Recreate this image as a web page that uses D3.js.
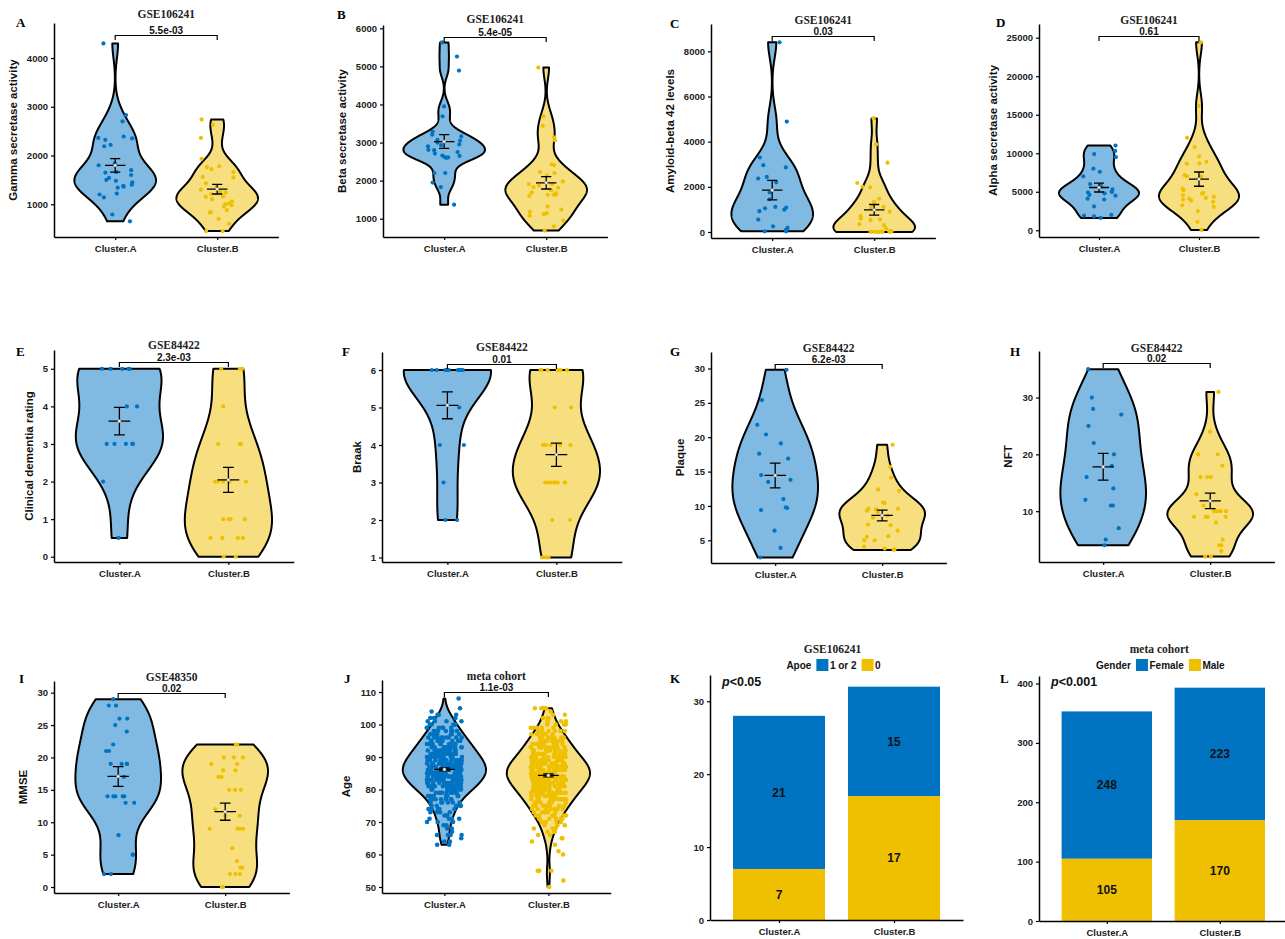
<!DOCTYPE html>
<meta charset="utf-8">
<script src="https://d3js.org/d3.v7.min.js"></script>
<style>
  body { margin: 0; background: #fff; }
</style>
<div id="chart"></div>
<script>
// ---- data ----
var groups = ["Cluster.A", "Cluster.B"];

// GSE106241
var gammaA = [4300, 2830, 2700, 2390, 2360, 2350, 2320, 2220, 2190, 1840, 1800, 1700, 1660, 1650, 1600, 1540, 1500, 1480, 1450, 1400, 1380, 1360, 1340, 1220, 1200, 1140, 790, 650];
var gammaB = [2740, 2630, 2360, 1930, 1780, 1760, 1720, 1660, 1560, 1550, 1430, 1370, 1300, 1260, 1240, 1240, 1210, 1160, 1150, 1100, 1060, 1020, 1000, 980, 950, 880, 840, 830, 700, 600, 450, 450];
var betaA = [5630, 5260, 4890, 3950, 3690, 3290, 3210, 3160, 3070, 3050, 3000, 2950, 2930, 2900, 2810, 2800, 2750, 2710, 2660, 2650, 2620, 2610, 2600, 2200, 2200, 1950, 1830, 1370];
var betaB = [4970, 3690, 3440, 3140, 3060, 2430, 2410, 2230, 2200, 2130, 1980, 1910, 1910, 1870, 1830, 1810, 1750, 1690, 1670, 1630, 1630, 1630, 1600, 1320, 1240, 1180, 1150, 1120, 1080, 950, 800, 690];
var amyloidA = [8400, 4890, 3300, 2960, 2860, 2440, 2370, 2200, 1750, 1450, 1110, 1080, 1050, 990, 920, 550, 250, 180, 100, 30, 30];
var amyloidB = [5030, 3880, 3070, 2170, 2000, 1980, 1470, 1330, 1180, 1110, 1050, 900, 700, 600, 550, 530, 350, 300, 150, 40, 30, 20, 20, 10, 10, 5, 5, 0, 0];
var alphaA = [11000, 10300, 9900, 9500, 8000, 7600, 7000, 6000, 5800, 5300, 5000, 5000, 4900, 4800, 4600, 4500, 4100, 4000, 3100, 2000, 1900, 1800, 1600];
var alphaB = [24400, 16150, 12000, 10800, 9600, 8900, 8700, 8650, 7150, 7000, 7000, 6700, 5400, 5200, 4850, 4750, 4550, 4350, 4200, 4100, 4000, 3850, 3700, 3250, 3050, 2500, 1100, 50];

// GSE84422
var cdrA = [5, 5, 5, 5, 5, 4, 4, 3, 3, 3, 3, 3, 2, 0.5];
var cdrB = [5, 5, 5, 4, 3, 3, 3, 3, 2, 2, 2, 2, 2, 1, 1, 1, 1, 0.5, 0.5, 0.5, 0.5, 0, 0];
var braakA = [6, 6, 6, 6, 6, 6, 6, 6, 6, 6, 6, 5, 4, 4, 3, 2, 2];
var braakB = [6, 6, 6, 6, 6, 6, 5, 5, 4, 4, 4, 4, 4, 4, 3, 3, 3, 3, 3, 3, 3, 3, 2, 2, 1, 1, 1];
var plaqueA = [29.8, 25.4, 21.8, 20.4, 19.1, 17.6, 16.9, 14.5, 13.8, 13.5, 11.0, 9.8, 9.7, 9.4, 6.4, 3.9, 2.5];
var plaqueB = [18.9, 15.7, 14.1, 12.4, 12.2, 10.5, 10.4, 9.6, 9.6, 9.5, 9.3, 9.1, 8.6, 8.3, 7.3, 7.2, 6.4, 5.6, 5.5, 5.0, 5.0, 4.1, 3.8, 3.7, 3.6];
var nftA = [35, 30, 28, 27, 25, 22, 20, 18, 16, 14, 12, 11, 11, 7, 5, 4];
var nftB = [31, 24, 20, 20, 20, 18, 16, 16, 16, 13, 11, 10, 10, 10, 10, 10, 9, 9, 9, 9, 8, 5, 4, 4, 3, 2, 2];

// GSE48350
var mmseA = [29, 28, 28, 26, 26, 25, 24, 22, 21, 21, 19, 19, 19, 19, 17, 14, 14, 14, 14, 14, 13, 13, 8, 5, 5, 2, 2];
var mmseB = [22, 22, 20, 20, 20, 19, 19, 18, 18, 17, 17, 15, 15, 15, 12, 11, 11, 9, 9, 9, 9, 6, 4, 3, 3, 2, 2, 2, 0, 0];

// meta cohort, age: [age, number of samples]
var ageCountsA = [[63,2],[64,2],[65,1],[66,4],[67,1],[68,2],[69,2],[70,3],[71,4],[72,3],[73,4],[74,5],[75,5],[76,6],[77,7],[78,8],[79,10],
  [80,12],[81,13],[82,15],[83,16],[84,17],[85,18],[86,18],[87,18],[88,17],[89,16],[90,15],[91,14],[92,13],[93,12],[94,11],[95,10],
  [96,9],[97,8],[98,7],[99,6],[100,5],[101,4],[102,4],[103,3],[104,1],[105,1],[108,1]];
var ageCountsB = [[50,1],[52,1],[55,3],[60,1],[61,1],[63,1],[64,1],[65,2],[66,2],[67,3],[68,3],[69,3],[70,4],[71,6],[72,6],[73,7],
  [74,8],[75,9],[76,10],[77,11],[78,12],[79,13],[80,15],[81,15],[82,17],[83,18],[84,19],[85,19],[86,19],[87,18],[88,17],[89,16],
  [90,14],[91,13],[92,12],[93,11],[94,10],[95,9],[96,8],[97,7],[98,6],[99,5],[100,4],[101,3],[102,3],[103,2],[104,1],[105,4]];

// stacked bars
var apoeLevels = ["1 or 2", "0"];
var apoeCarrier = [21, 15];
var apoeNone = [7, 17];
var genderLevels = ["Female", "Male"];
var female = [248, 223];
var male = [105, 170];

// tick values
var ticksGamma = [1000, 2000, 3000, 4000];
var ticksBeta = [1000, 2000, 3000, 4000, 5000, 6000];
var ticksAmyloid = [0, 2000, 4000, 6000, 8000];
var ticksAlpha = [0, 5000, 10000, 15000, 20000, 25000];
var ticksCdr = [0, 1, 2, 3, 4, 5];
var ticksBraak = [1, 2, 3, 4, 5, 6];
var ticksPlaque = [5, 10, 15, 20, 25, 30];
var ticksNft = [10, 20, 30];
var ticksMmse = [0, 5, 10, 15, 20, 25, 30];
var ticksAge = [50, 60, 70, 80, 90, 100, 110];
var ticksApoe = [0, 10, 20, 30];
var ticksGender = [0, 100, 200, 300, 400];

// ---- setup ----
var blue = "#0073C2", yellow = "#EFC000";
var blueFill = "#80B9E1", yellowFill = "#F7DF80";
var sans = "'Liberation Sans', Arial, sans-serif";
var serif = "'Liberation Serif', 'Times New Roman', serif";

var svg = d3.select("#chart").append("svg")
  .attr("width", 1285)
  .attr("height", 939);

function expand(pairs) {
  var out = [];
  pairs.forEach(function(p) { for (var k = 0; k < p[1]; k++) out.push(p[0]); });
  return out;
}

// gaussian kernel density, bandwidth like R's bw.nrd0, trimmed to the data range
function kde(values) {
  var v = values.slice().sort(d3.ascending), n = v.length;
  var sd = d3.deviation(v);
  var iqr = d3.quantile(v, 0.75) - d3.quantile(v, 0.25);
  var lo = Math.min(sd, iqr / 1.34);
  if (!(lo > 0)) lo = sd || 1;
  var bw = 0.9 * lo * Math.pow(n, -0.2);
  var mn = v[0], mx = v[n - 1];
  return d3.range(512).map(function(k) {
    var t = mn + (mx - mn) * k / 511;
    var s = d3.sum(v, function(d) { var z = (t - d) / bw; return Math.exp(-0.5 * z * z); });
    return [t, s / (n * bw * Math.sqrt(2 * Math.PI))];
  });
}

function styleAxis(sel, size) {
  sel.select(".domain").attr("stroke", "#000").attr("stroke-width", 1.5);
  sel.selectAll(".tick line").attr("stroke", "#000").attr("stroke-width", 1.2);
  sel.selectAll(".tick text")
    .attr("font-family", sans)
    .attr("font-weight", "bold")
    .attr("font-size", size || 9.5)
    .attr("fill", "#222");
}

function panelLetter(p) {
  svg.append("text")
    .attr("x", p.lx).attr("y", p.ly)
    .attr("font-family", serif).attr("font-weight", "bold").attr("font-size", 13)
    .text(p.label);
}

function drawAxes(g, p, x, y, ticks) {
  var xa = g.append("g")
    .attr("transform", "translate(0," + p.bottom + ")")
    .call(d3.axisBottom(x).tickValues([1, 2]).tickFormat(function(d) { return groups[d - 1]; })
      .tickSize(3).tickPadding(5).tickSizeOuter(0));
  styleAxis(xa);
  var ya = g.append("g")
    .attr("transform", "translate(" + p.left + ",0)")
    .call(d3.axisLeft(y).tickValues(ticks).tickFormat(d3.format("d"))
      .tickSize(3).tickPadding(3).tickSizeOuter(0));
  styleAxis(ya);
  var maxW = d3.max(ya.selectAll(".tick text").nodes(), function(n) { return n.getComputedTextLength(); });
  return maxW;
}

// ---- violin panels ----
var violinPanels = [
  {a: gammaA, b: gammaB, ticks: ticksGamma, dom: [328, 4719], left: 54, u: 102, top: 23, bottom: 237,
   label: "A", lx: 16, ly: 27, title: "GSE106241", tdy: -5, ylab: "Gamma secretase activity", p: "5.5e-03"},
  {a: betaA, b: betaB, ticks: ticksBeta, dom: [520, 6087], left: 383, u: 102, top: 25, bottom: 237,
   label: "B", lx: 337, ly: 19, title: "GSE106241", tdy: -2, ylab: "Beta secretase activity", p: "5.4e-05"},
  {a: amyloidA, b: amyloidB, ticks: ticksAmyloid, dom: [-266, 9211], left: 711, u: 102, top: 24, bottom: 238,
   label: "C", lx: 670, ly: 28, title: "GSE106241", tdy: 0, ylab: "Amyloid-beta 42 levels", p: "0.03"},
  {a: alphaA, b: alphaB, ticks: ticksAlpha, dom: [-871, 26781], left: 1039, u: 100, top: 24, bottom: 237,
   label: "D", lx: 996, ly: 27, title: "GSE106241", tdy: 0, ylab: "Alpha secretase activity", p: "0.61"},
  {a: cdrA, b: cdrB, ticks: ticksCdr, dom: [-0.14, 5.5], left: 54, u: 109, top: 350, bottom: 562,
   label: "E", lx: 16, ly: 356, title: "GSE84422", tdy: -1, ylab: "Clinical dementia rating", p: "2.3e-03"},
  {a: braakA, b: braakB, ticks: ticksBraak, dom: [0.88, 6.48], left: 382, u: 109, top: 352, bottom: 562,
   label: "F", lx: 342, ly: 356, title: "GSE84422", tdy: -1, ylab: "Braak", p: "0.01"},
  {a: plaqueA, b: plaqueB, ticks: ticksPlaque, dom: [1.7, 32.4], left: 711, u: 107, top: 352, bottom: 563,
   label: "G", lx: 670, ly: 356, title: "GSE84422", tdy: 0, ylab: "Plaque", p: "6.2e-03"},
  {a: nftA, b: nftB, ticks: ticksNft, dom: [1.05, 38.2], left: 1039, u: 107, top: 351, bottom: 562,
   label: "H", lx: 1010, ly: 356, title: "GSE84422", tdy: 1, ylab: "NFT", p: "0.02"},
  {a: mmseA, b: mmseB, ticks: ticksMmse, dom: [-0.92, 31.8], left: 54, u: 107, top: 681, bottom: 893,
   label: "I", lx: 19, ly: 683, title: "GSE48350", tdy: 0, ylab: "MMSE", p: "0.02"},
  {a: expand(ageCountsA), b: expand(ageCountsB), ticks: ticksAge, dom: [48.15, 113.7], left: 382, u: 104, top: 680, bottom: 893,
   label: "J", lx: 344, ly: 683, title: "meta cohort", tdy: 0, ylab: "Age", p: "1.1e-03", r: 2.3}
];

violinPanels.forEach(function(p, pi) {
  var g = svg.append("g");
  var x = d3.scaleLinear().domain([0.4, 2.6]).range([p.left, p.left + 2.2 * p.u]);
  var y = d3.scaleLinear().domain(p.dom).range([p.bottom, p.top]);
  var sets = [p.a, p.b];
  var fills = [blueFill, yellowFill], cols = [blue, yellow];

  // violins
  sets.forEach(function(vals, i) {
    var dens = kde(vals);
    var dmax = d3.max(dens, function(d) { return d[1]; });
    var cx = x(i + 1);
    var half = function(d) { return d[1] / dmax * 0.4 * p.u; };
    g.append("path")
      .datum(dens)
      .attr("d", d3.area()
        .x0(function(d) { return cx - half(d); })
        .x1(function(d) { return cx + half(d); })
        .y(function(d) { return y(d[0]); }))
      .attr("fill", fills[i])
      .attr("stroke", "#000")
      .attr("stroke-width", 2)
      .attr("stroke-linejoin", "round");
  });

  // jittered points
  var rng = d3.randomLcg(0.137 + pi * 0.071);
  sets.forEach(function(vals, i) {
    var cx = x(i + 1);
    g.selectAll(null)
      .data(vals)
      .enter()
      .append("circle")
        .attr("cx", function() { return cx + (rng() * 2 - 1) * 0.17 * p.u; })
        .attr("cy", function(d) { return y(d); })
        .attr("r", p.r || 2.1)
        .attr("fill", cols[i]);
  });

  // mean +/- se
  sets.forEach(function(vals, i) {
    var cx = x(i + 1);
    var m = d3.mean(vals), se = d3.deviation(vals) / Math.sqrt(vals.length);
    var cap = 0.05 * p.u, bar = 0.1 * p.u;
    var path = "M" + (cx - cap) + "," + y(m + se) + "H" + (cx + cap) +
      "M" + cx + "," + y(m + se) + "V" + y(m - se) +
      "M" + (cx - cap) + "," + y(m - se) + "H" + (cx + cap) +
      "M" + (cx - bar) + "," + y(m) + "H" + (cx + bar);
    g.append("path").attr("d", path).attr("stroke", "#000").attr("stroke-width", 1.3).attr("fill", "none");
    g.append("circle").attr("cx", cx).attr("cy", y(m)).attr("r", 1.6)
      .attr("fill", "#fff").attr("stroke", "#777").attr("stroke-width", 0.6);
  });

  var maxW = drawAxes(g, p, x, y, p.ticks);

  // y axis title
  var cy = (p.top + p.bottom) / 2, tx = p.left - maxW - 20;
  g.append("text")
    .attr("transform", "translate(" + tx + "," + cy + ") rotate(-90)")
    .attr("text-anchor", "middle").attr("dy", "0.35em")
    .attr("font-family", sans).attr("font-weight", "bold").attr("font-size", 11.5).attr("fill", "#111")
    .text(p.ylab);

  // comparison bracket and p value
  var x1 = x(1), x2 = x(2), by = p.top + 12.5;
  g.append("path")
    .attr("d", "M" + x1 + "," + (by + 4.5) + "V" + by + "H" + x2 + "V" + (by + 4.5))
    .attr("stroke", "#000").attr("stroke-width", 1.2).attr("fill", "none");
  g.append("text")
    .attr("x", (x1 + x2) / 2).attr("y", p.top + 10.5)
    .attr("text-anchor", "middle")
    .attr("font-family", sans).attr("font-weight", "bold").attr("font-size", 10).attr("fill", "#111")
    .text(p.p);

  // dataset title
  g.append("text")
    .attr("x", (x1 + x2) / 2).attr("y", p.top + p.tdy)
    .attr("text-anchor", "middle")
    .attr("font-family", serif).attr("font-weight", "bold").attr("font-size", 11.5).attr("fill", "#222")
    .text(p.title);

  panelLetter(p);
});

// ---- stacked bar panels ----
var barPanels = [
  {high: apoeCarrier, low: apoeNone, levels: apoeLevels, key: "Apoe", ticks: ticksApoe, left: 710, u: 115, bottom: 920,
   label: "K", lx: 670, ly: 683, title: "GSE106241", pTxt: "<0.05", px: 722},
  {high: female, low: male, levels: genderLevels, key: "Gender", ticks: ticksGender, left: 1039, u: 113, bottom: 921,
   label: "L", lx: 1000, ly: 683, title: "meta cohort", pTxt: "<0.001", px: 1051}
];

barPanels.forEach(function(p) {
  var g = svg.append("g");
  p.top = p.bottom - 245;
  var x = d3.scaleLinear().domain([0.4, 2.6]).range([p.left, p.left + 2.2 * p.u]);
  var totals = p.low.map(function(v, i) { return v + p.high[i]; });
  var y = d3.scaleLinear().domain([0, d3.max(totals) * 1.05]).range([p.bottom, p.top]);
  var bw = 0.8 * p.u;

  groups.forEach(function(name, i) {
    var cx = x(i + 1);
    g.append("rect")
      .attr("x", cx - bw / 2).attr("width", bw)
      .attr("y", y(p.low[i])).attr("height", y(0) - y(p.low[i]))
      .attr("fill", yellow);
    g.append("rect")
      .attr("x", cx - bw / 2).attr("width", bw)
      .attr("y", y(totals[i])).attr("height", y(p.low[i]) - y(totals[i]))
      .attr("fill", blue);
    [[p.low[i], p.low[i] / 2], [p.high[i], p.low[i] + p.high[i] / 2]].forEach(function(s) {
      g.append("text")
        .attr("x", cx).attr("y", y(s[1])).attr("dy", "0.35em")
        .attr("text-anchor", "middle")
        .attr("font-family", sans).attr("font-weight", "bold").attr("font-size", 12).attr("fill", "#111")
        .text(s[0]);
    });
  });

  drawAxes(g, p, x, y, p.ticks);

  // p value
  var pt = g.append("text")
    .attr("x", p.px).attr("y", 686)
    .attr("font-family", sans).attr("font-weight", "bold").attr("font-size", 12.5).attr("fill", "#111");
  pt.append("tspan").attr("font-style", "italic").text("p");
  pt.append("tspan").text(p.pTxt);

  // title
  var mid = (x(1) + x(2)) / 2;
  g.append("text")
    .attr("x", mid - 4).attr("y", 652.5)
    .attr("text-anchor", "middle")
    .attr("font-family", serif).attr("font-weight", "bold").attr("font-size", 11.5).attr("fill", "#222")
    .text(p.title);

  // legend
  var lg = g.append("g");
  var cur = 0;
  var keyTitle = lg.append("text").attr("x", cur).attr("y", 669)
    .attr("font-family", sans).attr("font-weight", "bold").attr("font-size", 10).attr("fill", "#111")
    .text(p.key);
  cur += keyTitle.node().getComputedTextLength() + 5;
  [blue, yellow].forEach(function(c, i) {
    lg.append("rect").attr("x", cur).attr("y", 659).attr("width", 12).attr("height", 12).attr("fill", c);
    cur += 13.5;
    var t = lg.append("text").attr("x", cur).attr("y", 669)
      .attr("font-family", sans).attr("font-weight", "bold").attr("font-size", 10).attr("fill", "#111")
      .text(p.levels[i]);
    cur += t.node().getComputedTextLength() + 5;
  });
  cur -= 5;
  lg.attr("transform", "translate(" + (mid - 3 - cur / 2) + ",0)");

  panelLetter(p);
});
</script>
